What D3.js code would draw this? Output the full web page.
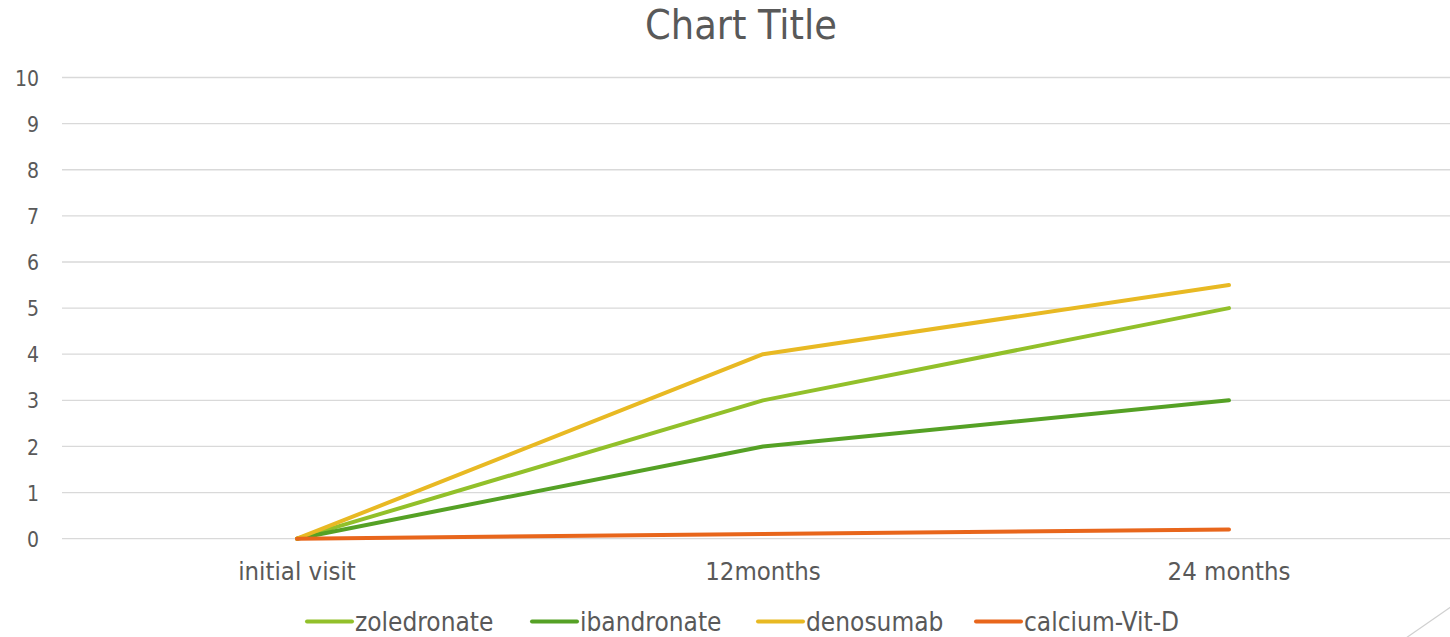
<!DOCTYPE html>
<html>
<head>
<meta charset="utf-8">
<script src="https://cdn.jsdelivr.net/npm/d3@7"></script>
<style>
  html, body { margin: 0; padding: 0; background: #fff; overflow: hidden; }
  svg { display: block; font-family: "DejaVu Sans Condensed", "DejaVu Sans", sans-serif; }
</style>
</head>
<body>
<svg id="chart" width="1450" height="637"></svg>
<script>
// Data
const categories = ["initial visit", "12months", "24 months"];
const seriesNames = ["zoledronate", "ibandronate", "denosumab", "calcium-Vit-D"];
const zoledronate = [0, 3, 5];
const ibandronate = [0, 2, 3];
const denosumab = [0, 4, 5.5];
const calciumVitD = [0, 0.1, 0.2];
const yTicks = [0, 1, 2, 3, 4, 5, 6, 7, 8, 9, 10];
const seriesColors = ["#92c02a", "#55a125", "#e8b923", "#e8661c"];

const seriesValues = [zoledronate, ibandronate, denosumab, calciumVitD];
const series = seriesNames.map((name, i) => ({ name, values: seriesValues[i], color: seriesColors[i] }));

const svg = d3.select("#chart");
const W = 1450, H = 637;
const plot = { left: 64, right: 1462, top: 77.5, bottom: 538.7 };
const textColor = "#595959";
const font = "'DejaVu Sans Condensed', 'DejaVu Sans', sans-serif";

const x = d3.scaleBand().domain(categories).range([plot.left, plot.right]);
const y = d3.scaleLinear().domain([0, 10]).range([plot.bottom, plot.top]);

// Title
svg.append("text")
  .attr("x", 741).attr("y", 39)
  .attr("text-anchor", "middle")
  .attr("fill", textColor)
  .attr("font-size", 41)
  .text("Chart Title");

// Gridlines
svg.append("g").selectAll("line").data(yTicks).join("line")
  .attr("x1", plot.left - 2).attr("x2", W + 10)
  .attr("y1", d => y(d)).attr("y2", d => y(d))
  .attr("stroke", "#d9d9d9").attr("stroke-width", 1.3);

// Y axis labels
const yAxis = d3.axisLeft(y).tickValues(yTicks).tickSize(0).tickPadding(0);
const gy = svg.append("g").attr("transform", "translate(39,0)").call(yAxis);
gy.select(".domain").remove();
gy.selectAll("text").attr("fill", textColor).attr("font-size", 21)
  .attr("font-family", font).attr("dy", "0.36em");

// X axis labels
const xAxis = d3.axisBottom(x).tickSize(0).tickPadding(0);
const gx = svg.append("g").attr("transform", `translate(0,${plot.bottom + 41})`).call(xAxis);
gx.select(".domain").remove();
gx.selectAll("text").attr("fill", textColor).attr("font-size", 25.5)
  .attr("font-family", font).attr("dy", "0");

// Lines
const line = d3.line()
  .x((d, i) => x(categories[i]) + x.bandwidth() / 2)
  .y(d => y(d));

svg.append("g").selectAll("path").data(series).join("path")
  .attr("d", d => line(d.values))
  .attr("fill", "none")
  .attr("stroke", d => d.color)
  .attr("stroke-width", 4)
  .attr("stroke-linecap", "round")
  .attr("stroke-linejoin", "round");

// Legend
const legendX = [307, 532, 758, 976];
const lg = svg.append("g").selectAll("g").data(series).join("g")
  .attr("transform", (d, i) => `translate(${legendX[i]},621.5)`);
lg.append("line")
  .attr("x1", 0).attr("x2", 45).attr("y1", 0).attr("y2", 0)
  .attr("stroke", d => d.color).attr("stroke-width", 4).attr("stroke-linecap", "round");
lg.append("text")
  .attr("x", 48).attr("y", 0).attr("dy", "0.35em")
  .attr("fill", textColor).attr("font-size", 26)
  .text(d => d.name);

// Corner decoration
svg.append("line")
  .attr("x1", 1406).attr("y1", 638).attr("x2", 1455).attr("y2", 604)
  .attr("stroke", "#d0d0d0").attr("stroke-width", 1.2);
</script>
</body>
</html>
